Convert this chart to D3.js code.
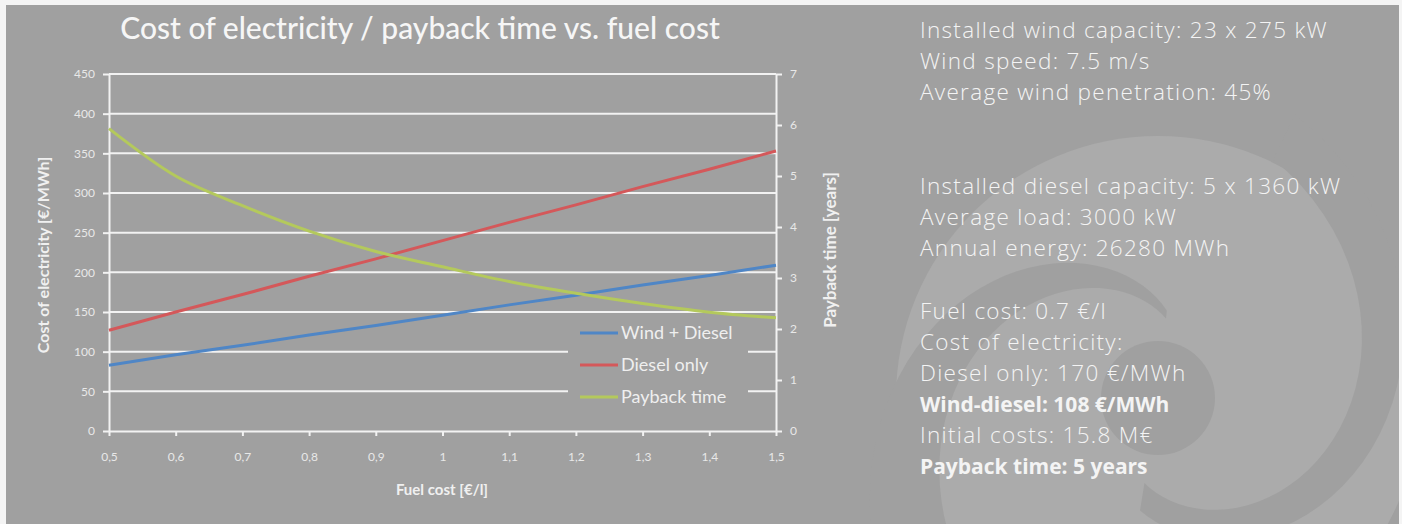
<!DOCTYPE html>
<html>
<head>
<meta charset="utf-8">
<script src="https://cdn.jsdelivr.net/npm/d3@7"></script>
<style>
body { margin: 0; background: #f4f4f4; }
svg { display: block; }
</style>
</head>
<body>
<svg id="chart" width="1402" height="524"></svg>
<script>
// values
var fuel_cost = [0.5, 0.6, 0.7, 0.8, 0.9, 1.0, 1.1, 1.2, 1.3, 1.4, 1.5]
var wind_diesel = [83, 96, 108, 121, 133, 146, 159, 171, 184, 196, 209]
var diesel_only = [127, 150, 172, 195, 217, 240, 263, 285, 308, 330, 353]
var payback_time = [5.93, 5.0, 4.42, 3.92, 3.52, 3.22, 2.93, 2.70, 2.50, 2.33, 2.22]

var cost_ticks = [0, 50, 100, 150, 200, 250, 300, 350, 400, 450]
var payback_ticks = [0, 1, 2, 3, 4, 5, 6, 7]
var fuel_ticks = [0.5, 0.6, 0.7, 0.8, 0.9, 1, 1.1, 1.2, 1.3, 1.4, 1.5]

var series_names = ["Wind + Diesel", "Diesel only", "Payback time"]
var series_colors = ["#4f86c6", "#d4585a", "#b4c95c"]

var info_lines = [
    "Installed wind capacity: 23 x 275 kW",
    "Wind speed: 7.5 m/s",
    "Average wind penetration: 45%",
    "",
    "",
    "Installed diesel capacity: 5 x 1360 kW",
    "Average load: 3000 kW",
    "Annual energy: 26280 MWh",
    "",
    "Fuel cost: 0.7 €/l",
    "Cost of electricity:",
    "Diesel only: 170 €/MWh",
    "Wind-diesel: 108 €/MWh",
    "Initial costs: 15.8 M€",
    "Payback time: 5 years"
]
var info_bold = [12, 14]

var svg = d3.select("#chart")
var m_left = 109, m_right = 776, m_top = 74, m_bottom = 431
var panel = "#a0a0a0"

// gray panel
svg.append("rect").attr("x", 6).attr("y", 5).attr("width", 1393).attr("height", 530).attr("fill", panel)

// swirl logo behind the text
svg.append("clipPath").attr("id", "panelclip").append("rect")
    .attr("x", 6).attr("y", 5).attr("width", 1393).attr("height", 530)
var logo = svg.append("g").attr("clip-path", "url(#panelclip)")
    .append("g").attr("transform", "translate(1158,398)")
logo.append("circle").attr("r", 262).attr("fill", "#ababab")

// spiral arm: angles a0->a1, centre radius r0->r1, width w0->w1
function spiral_arm(a0, a1, r0, r1, w0, w1) {
    var n = 40, outer = [], inner = []
    for (var i = 0; i <= n; i++) {
        var t = i / n
        var a = a0 + (a1 - a0) * t, r = r0 + (r1 - r0) * t, w = (w0 + (w1 - w0) * t) / 2
        outer.push([a, r + w])
        inner.unshift([a, Math.max(0, r - w)])
    }
    return d3.lineRadial().curve(d3.curveLinearClosed)(outer.concat(inner))
}
logo.append("path").attr("fill", panel).attr("d", spiral_arm(0.45, 3.3, 290, 100, 50, 28))
logo.append("path").attr("fill", panel).attr("d", spiral_arm(0.1, -2.25, 84, 300, 8, 85))
logo.append("circle").attr("r", 57).attr("fill", panel)

var x = d3.scaleLinear().domain([0.5, 1.5]).range([m_left, m_right])
var y = d3.scaleLinear().domain([0, 450]).range([m_bottom, m_top])
var y2 = d3.scaleLinear().domain([0, 7]).range([m_bottom, m_top])

var white = "#f2f2f2"
var font = "Lato, 'Open Sans', sans-serif"

// gridlines
svg.append("g").selectAll("line").data(cost_ticks.slice(1)).enter().append("line")
    .attr("x1", m_left).attr("x2", m_right)
    .attr("y1", function(d) { return y(d) }).attr("y2", function(d) { return y(d) })
    .attr("stroke", white).attr("stroke-width", 2)

// legend box hides the gridlines behind it
svg.append("rect").attr("x", 568).attr("y", 322).attr("width", 180).attr("height", 94).attr("fill", panel)

function style_axis(g) {
    g.select(".domain").attr("stroke", white).attr("stroke-width", 2)
    g.selectAll(".tick line").attr("stroke", white).attr("stroke-width", 2)
    g.selectAll("text").attr("fill", "#e8e8e8").style("font-family", font).style("font-size", "12px")
}

var comma = function(d) { return String(d).replace(".", ",") }

svg.append("g").attr("transform", "translate(" + m_left + ",0)")
    .call(d3.axisLeft(y).tickValues(cost_ticks).tickSize(6).tickSizeOuter(0).tickPadding(8))
    .call(style_axis)
svg.append("g").attr("transform", "translate(" + m_right + ",0)")
    .call(d3.axisRight(y2).tickValues(payback_ticks).tickFormat(d3.format("d")).tickSize(6).tickSizeOuter(0).tickPadding(8))
    .call(style_axis)
svg.append("g").attr("transform", "translate(0," + m_bottom + ")")
    .call(d3.axisBottom(x).tickValues(fuel_ticks).tickFormat(comma).tickSize(5).tickSizeOuter(0).tickPadding(16))
    .call(style_axis)

// series
var line_cost = d3.line().x(function(d, i) { return x(fuel_cost[i]) }).y(function(d) { return y(d) })
var line_pay = d3.line().curve(d3.curveMonotoneX).x(function(d, i) { return x(fuel_cost[i]) }).y(function(d) { return y2(d) })

svg.append("path").attr("d", line_cost(wind_diesel)).attr("fill", "none").attr("stroke", series_colors[0]).attr("stroke-width", 3)
svg.append("path").attr("d", line_cost(diesel_only)).attr("fill", "none").attr("stroke", series_colors[1]).attr("stroke-width", 3)
svg.append("path").attr("d", line_pay(payback_time)).attr("fill", "none").attr("stroke", series_colors[2]).attr("stroke-width", 3)

// legend
var legend = svg.append("g").selectAll("g").data(series_names).enter().append("g")
    .attr("transform", function(d, i) { return "translate(580," + (333 + i * 32) + ")" })
legend.append("line").attr("x1", 0).attr("x2", 38).attr("stroke", function(d, i) { return series_colors[i] }).attr("stroke-width", 3)
legend.append("text").attr("x", 41).attr("dy", "0.35em").text(function(d) { return d })
    .attr("fill", "#efefef").style("font-family", font).style("font-size", "18px")

// titles
svg.append("text").attr("x", 420).attr("y", 28).attr("dy", "0.35em").attr("text-anchor", "middle")
    .text("Cost of electricity / payback time vs. fuel cost")
    .attr("fill", "#f6f6f6").style("font-family", font).style("font-size", "30px").style("font-weight", "500")
svg.append("text").attr("transform", "translate(43,255) rotate(-90)").attr("text-anchor", "middle").attr("dy", "0.35em")
    .text("Cost of electricity [€/MWh]")
    .attr("fill", "#f0f0f0").style("font-family", font).style("font-size", "16px").style("font-weight", "bold")
svg.append("text").attr("transform", "translate(830,250) rotate(-90)").attr("text-anchor", "middle").attr("dy", "0.35em")
    .text("Payback time [years]")
    .attr("fill", "#f0f0f0").style("font-family", font).style("font-size", "17px").style("font-weight", "bold")
svg.append("text").attr("x", 442).attr("y", 490).attr("text-anchor", "middle").attr("dy", "0.35em")
    .text("Fuel cost [€/l]")
    .attr("fill", "#f0f0f0").style("font-family", font).style("font-size", "15px").style("font-weight", "bold")

// info text
svg.append("g").selectAll("text").data(info_lines).enter().append("text")
    .attr("x", 920).attr("y", function(d, i) { return 30 + i * 31.2 }).attr("dy", "0.35em")
    .text(function(d) { return d })
    .attr("fill", "#f4f4f4").style("font-family", "'Open Sans', sans-serif")
    .style("font-size", function(d, i) { return info_bold.includes(i) ? "21px" : "22.5px" })
    .style("letter-spacing", function(d, i) { return info_bold.includes(i) ? "0px" : "1.3px" })
    .style("font-weight", function(d, i) { return info_bold.includes(i) ? "bold" : "300" })
</script>
</body>
</html>
